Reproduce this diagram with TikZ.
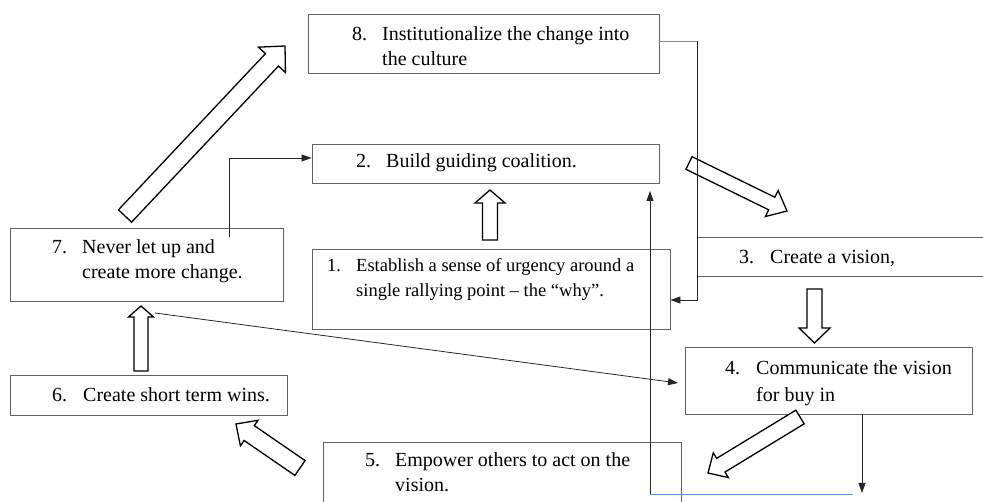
\documentclass[tikz,border=0pt]{standalone}
\usepackage{fontspec}
\setmainfont{Liberation Serif}
\usetikzlibrary{arrows.meta,calc}
\definecolor{lineblue}{HTML}{6F8FD8}
\tikzset{
  box/.style={draw=black!62, line width=0.9pt, inner sep=0pt},
  txt/.style={anchor=base west, inner sep=0pt, font=\fontsize{20}{26}\selectfont},
  smalltxt/.style={txt, font=\fontsize{18.5}{24}\selectfont},
  blk/.style={draw=black, line width=1.3pt, fill=white, line join=miter},
  conn/.style={draw=black!85, line width=0.8pt},
  arr/.style={-{Triangle[length=10pt,width=7pt]}},
  bluel/.style={draw=lineblue, line width=0.8pt}
}
% tail, tip, half shaft width, half head width, head length
\newcommand\blockarrow[5]{%
  \coordinate (bt) at (#1);
  \coordinate (bh) at (#2);
  \coordinate (bb) at ($(bh)!#5!(bt)$);
  \draw[blk] ($(bt)!#3!90:(bh)$) -- ($(bb)!#3!-90:(bt)$) -- ($(bb)!#4!-90:(bt)$)
    -- (bh) -- ($(bb)!#4!90:(bt)$) -- ($(bb)!#3!90:(bt)$) -- ($(bt)!#3!-90:(bh)$) -- cycle;
}
\begin{document}
\begin{tikzpicture}[x=1pt,y=-1pt]
\useasboundingbox (0,0) rectangle (983,502);
\clip (0,0) rectangle (983,502);

% boxes
\node[box, minimum width=351pt, minimum height=59pt] (b8) at (483.5,43.5) {};
\node[box, minimum width=347pt, minimum height=39pt] (b2) at (485.5,163.5) {};
\node[box, minimum width=273pt, minimum height=73pt] (b7) at (146.5,264.5) {};
\node[box, minimum width=358pt, minimum height=80pt] (b1) at (491,289) {};
\node[box, minimum width=303pt, minimum height=39pt] (b3) at (848.5,256.5) {};
\node[box, minimum width=287pt, minimum height=67pt] (b4) at (828.5,380.5) {};
\node[box, minimum width=277pt, minimum height=40pt] (b6) at (148.5,395) {};
\node[box, minimum width=358pt, minimum height=88pt] (b5) at (502,486) {};

% texts
\node[txt] (n8) at (352,41) {8.};
\node[txt] (t8a) at (382,41) {Institutionalize the change into};
\node[txt] (t8b) at (382,66) {the culture};
\node[txt] (n2) at (356,168) {2.};
\node[txt] (t2) at (386,168) {Build guiding coalition.};
\node[txt] (n7) at (52,254) {7.};
\node[txt] (t7a) at (82,254) {Never let up and};
\node[txt] (t7b) at (82,279) {create more change.};
\node[smalltxt] (n1) at (327,272) {1.};
\node[smalltxt] (t1a) at (356,272) {Establish a sense of urgency around a};
\node[smalltxt] (t1b) at (356,297) {single rallying point – the “why”.};
\node[txt] (n3) at (739,264) {3.};
\node[txt] (t3) at (770,264) {Create a vision,};
\node[txt] (n4) at (725,375) {4.};
\node[txt] (t4a) at (756,375) {Communicate the vision};
\node[txt] (t4b) at (756,402) {for buy in};
\node[txt] (n6) at (52,402) {6.};
\node[txt] (t6) at (83,402) {Create short term wins.};
\node[txt] (n5) at (365,467) {5.};
\node[txt] (t5a) at (395,467) {Empower others to act on the};
\node[txt] (t5b) at (395,492) {vision.};

% block arrows
\blockarrow{125,216}{285,46}{9pt}{18.5pt}{19pt}
\blockarrow{490,240}{490,190}{7.5pt}{15pt}{13pt}
\blockarrow{689,163}{787,211}{7pt}{14.5pt}{17pt}
\blockarrow{814.5,289}{814.5,343}{7.5pt}{15.5pt}{15pt}
\blockarrow{800,417}{708,473}{8pt}{14.5pt}{15pt}
\blockarrow{300,468}{236,424}{9pt}{15.5pt}{16pt}
\blockarrow{141,371}{141,306}{7pt}{12.5pt}{11pt}

% thin connectors
\coordinate (s7) at (229,237);
\coordinate (k1) at (229,158);
\draw[conn,arr] (s7) -- (k1) -- (k1 -| b2.west);

\coordinate (k2) at (697,41);
\coordinate (k3) at (697,300);
\draw[bluel] (k2 -| b8.east) -- (k2);
\draw[conn,arr] (k2) -- (k3) -- (k3 -| b1.east);

\coordinate (s3) at (155,313);
\coordinate (e3) at (678,383);
\draw[conn,arr] (s3) -- (e3);

\coordinate (k4) at (862,493);
\draw[conn,arr] (k4 |- b4.south) -- (k4);

\coordinate (k5) at (650,494);
\coordinate (k6) at (853,494);
\coordinate (e5) at (650,191);
\draw[bluel] (k6) -- (k5);
\draw[conn,arr] (k5) -- (e5);
\end{tikzpicture}
\end{document}
